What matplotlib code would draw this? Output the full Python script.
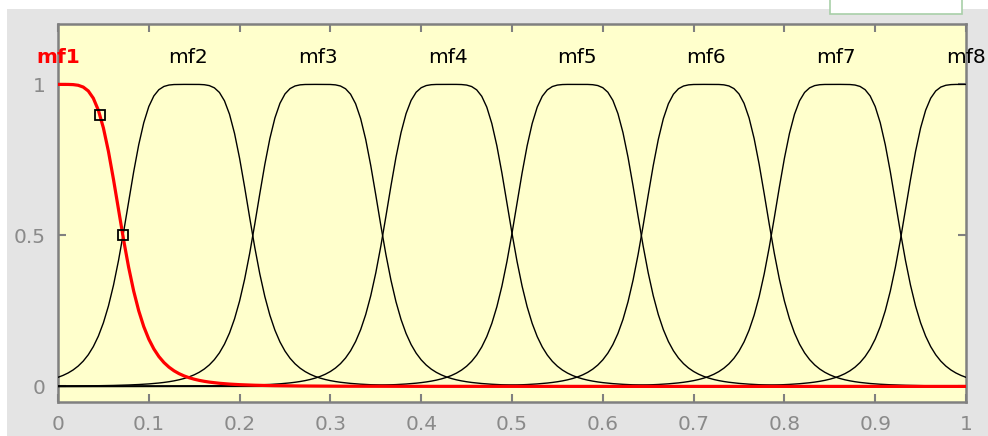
import numpy as np
import matplotlib.pyplot as plt
from matplotlib.patches import Rectangle

plt.rcParams['font.family'] = ['DejaVu Sans']

# membership functions (generalized bell)
mf_names = ['mf1', 'mf2', 'mf3', 'mf4', 'mf5', 'mf6', 'mf7', 'mf8']
mf_centers = [0.0, 0.143, 0.286, 0.429, 0.571, 0.714, 0.857, 1.0]
mf_width = 0.0714
mf_slope = 2.5
selected = 0
handle_levels = [0.9, 0.5]

x_ticks = [0, 0.1, 0.2, 0.3, 0.4, 0.5, 0.6, 0.7, 0.8, 0.9, 1]
x_labels = ['0', '0.1', '0.2', '0.3', '0.4', '0.5', '0.6', '0.7', '0.8', '0.9', '1']
y_ticks = [0, 0.5, 1]
y_labels = ['0', '0.5', '1']


def gbellmf(x, a, b, c):
    return 1.0 / (1.0 + np.abs((x - c) / a) ** (2 * b))


W, H = 988, 436
fig = plt.figure(figsize=(W / 100, H / 100), dpi=100)
fig.patch.set_facecolor('white')

# gray panel with white strip at top/left, small white box top right
fig.patches.append(Rectangle((7 / W, 0), 1, (H - 9) / H, transform=fig.transFigure,
                             facecolor='#e4e4e4', edgecolor='none', zorder=-2))
fig.patches.append(Rectangle((830 / W, 1 - 14 / H), 132 / W, 0.05, transform=fig.transFigure,
                             facecolor='white', edgecolor='#a8cfa8', linewidth=1.2, zorder=-1))

ax = fig.add_axes([58 / W, 1 - 401.5 / H, 908 / W, 377.5 / H])
ax.set_facecolor('#ffffcc')

x = np.linspace(0, 1, 181)
for i, (name, c) in enumerate(zip(mf_names, mf_centers)):
    y = gbellmf(x, mf_width, mf_slope, c)
    if i == selected:
        ax.plot(x, y, color='red', lw=2.3, zorder=4, solid_joinstyle='miter')
        ax.text(c, 1.07, name, color='red', fontsize=14.5, fontweight='bold',
                ha='center', va='baseline', clip_on=False)
        # square handles on the selected curve
        hx = [c + mf_width * (1 / lev - 1) ** (1 / (2 * mf_slope)) for lev in handle_levels]
        ax.plot(hx, handle_levels, ls='none', marker='s', ms=6.5, mfc='none',
                mec='black', mew=1.3, zorder=5)
    else:
        ax.plot(x, y, color='black', lw=1.0, zorder=3)
        ax.text(c, 1.07, name, color='black', fontsize=14.5,
                ha='center', va='baseline', clip_on=False)

ax.set_xlim(0, 1)
ax.set_ylim(-0.05, 1.2)
ax.set_xticks(x_ticks)
ax.set_xticklabels(x_labels)
ax.set_yticks(y_ticks)
ax.set_yticklabels(y_labels)
ax.tick_params(direction='in', top=True, right=True, length=6, width=1.5,
               color='#808080', labelcolor='#8a8a8a', labelsize=14.5)
ax.tick_params(axis='x', pad=10)
ax.tick_params(axis='y', pad=9)
for s in ax.spines.values():
    s.set_color('#808080')
    s.set_linewidth(1.8)

fig.savefig('out.png', dpi=100)
plt.close(fig)
